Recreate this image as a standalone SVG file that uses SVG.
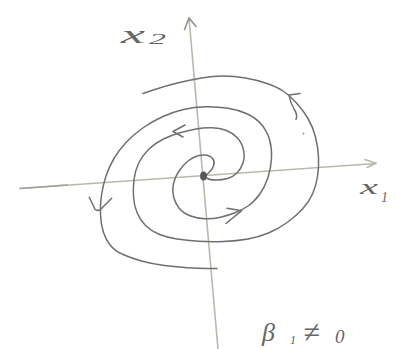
<svg xmlns="http://www.w3.org/2000/svg" width="407" height="349" viewBox="0 0 407 349">
<style>
.axis{fill:none;stroke:#b9b9ab;stroke-width:1.6;stroke-linecap:round;stroke-linejoin:round}
.curve{fill:none;stroke:#6f6f6f;stroke-width:1.5;stroke-linecap:round;stroke-linejoin:round}
.lbl{font-family:"Liberation Serif",serif;font-style:italic;fill:#666666}
</style>
<rect width="407" height="349" fill="#ffffff"/>
<g id="axes">
<path class="axis" d="M20,188.5 L376,163.5"/>
<path class="axis" d="M20,188.5 L67,185" style="stroke:#a2a29a"/>
<path class="axis" d="M365,159.5 L376,163.3 L367,167.5"/>
<path class="axis" d="M189,18 L218,349"/>
<path class="axis" d="M184.5,29.5 L189,18 L196,26.5" style="stroke:#8f8f8f"/>
</g>
<g id="connectors">
<path id="armA" class="curve" d="M205,176 L208.5,173 Q212,170 213.5,166 Q215,162 213,159 Q211,156 207,155.25 Q203,154.5 198,155.75 Q193,157 188,161 Q183,165 179,171 Q175,177 173.5,183.5 Q172,190 173.5,196.5 Q175,203 179,208 Q183,213 190,215.75 Q197,218.5 205,218.75 Q213,219 220.5,217.25 Q228,215.5 235,212.75 Q242,210 248,206 Q254,202 259.5,194.5 Q265,187 268,177.5 Q271,168 271.5,158 Q272,148 269.5,139.5 Q267,131 261.5,124.5 Q256,118 247.5,114 Q239,110 228,108.25 Q217,106.5 205.5,106.75 Q194,107 183.5,109.5 Q173,112 163,116.5 Q153,121 143.5,127.5 Q134,134 126.5,142 Q119,150 114,158.5 Q109,167 106,176 Q103,185 101.5,195 Q100,205 100.5,215 Q101,225 103.5,232.5 Q106,240 110.5,245.5 Q115,251 123,254.5 Q131,258 141.5,261 Q152,264 164.5,265.5 Q177,267 187.5,267.75 Q198,268.5 207.5,268.5 L217,268.5"/>
<path id="armB" class="curve" d="M205,177 L207.5,178.5 Q210,180 216,180 Q222,180 227.5,178.5 Q233,177 237,173 Q241,169 243,163 Q245,157 243.5,150 Q242,143 237.5,138 Q233,133 226.5,130.5 Q220,128 212,127.75 Q204,127.5 196,129 Q188,130.5 180,132.75 Q172,135 163.5,139 Q155,143 148.5,149.5 Q142,156 138.5,163.5 Q135,171 134,179.5 Q133,188 133.5,196.5 Q134,205 137,212.5 Q140,220 145.5,225.5 Q151,231 159,234.25 Q167,237.5 177,239 Q187,240.5 198.5,241.25 Q210,242 223.5,241.5 Q237,241 248,239 Q259,237 269,232.75 Q279,228.5 287.5,222.25 Q296,216 302.5,209 Q309,202 312.5,194 Q316,186 317.5,176.5 Q319,167 318.5,157 Q318,147 315.5,137 Q313,127 308,118.5 Q303,110 296,102.5 Q289,95 283,91 Q277,87 267,83.5 Q257,80 245.5,78 Q234,76 223.5,76 Q213,76 201.5,78 Q190,80 177.5,83 Q165,86 154,89.75 L143,93.5"/>
<path class="curve" d="M185,125 L173,131.5 L183,137"/>
<path class="curve" d="M227,208.3 L241.7,210.7 L226,223.5"/>
<path class="curve" d="M89.3,197.3 L95,209.3 Q97,211 100,210 L111.7,198.3"/>
<path class="curve" d="M300,93.5 L289,95 Q290,102 294,109 Q298,115 296,119.5"/>
</g>
<g id="origin">
<ellipse cx="203.5" cy="176" rx="3.4" ry="4.6" fill="#585858"/>
</g>
<circle cx="303.5" cy="133.5" r="0.9" fill="#8a8a8a"/>
<g id="labels">
<text class="lbl" x="121" y="43" font-size="25" textLength="24" lengthAdjust="spacingAndGlyphs">x</text>
<text class="lbl" x="149" y="44" font-size="15" textLength="17" lengthAdjust="spacingAndGlyphs">2</text>
<text class="lbl" x="360" y="194" font-size="21" textLength="18" lengthAdjust="spacingAndGlyphs">x</text>
<text class="lbl" x="381" y="202" font-size="14">1</text>
<text class="lbl" x="262" y="341" font-size="26">β</text>
<text class="lbl" x="290" y="344" font-size="12">1</text>
<text class="lbl" x="303" y="342" font-size="30" font-style="normal">≠</text>
<text class="lbl" x="335" y="343" font-size="19">0</text>
</g>
</svg>
